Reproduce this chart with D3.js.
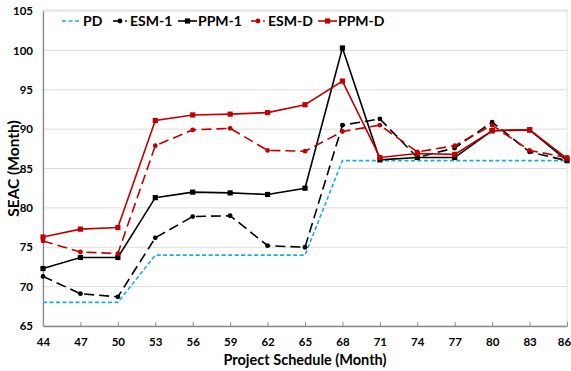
<!DOCTYPE html>
<html>
<head>
<meta charset="utf-8">
<script src="https://cdn.jsdelivr.net/npm/d3@7/dist/d3.min.js"></script>
<style>
  html, body { margin: 0; padding: 0; background: #fff; }
  svg { display: block; }
  text { font-family: Lato, "Open Sans", sans-serif; font-weight: bold; fill: #000; }
</style>
</head>
<body>
<svg id="chart" width="571" height="371"></svg>
<script>
// Schedule months (x categories)
const months = [44, 47, 50, 53, 56, 59, 62, 65, 68, 71, 74, 77, 80, 83, 86];

// SEAC estimates (months) per method
const pd   = [68, 68, 68, 74, 74, 74, 74, 74, 86, 86, 86, 86, 86, 86, 86];
const esm1 = [71.3, 69.1, 68.7, 76.2, 78.9, 79.0, 75.2, 75.0, 90.5, 91.3, 86.4, 87.6, 90.9, 87.1, 86.0];
const ppm1 = [72.3, 73.7, 73.7, 81.3, 82.0, 81.9, 81.7, 82.5, 100.3, 86.1, 86.4, 86.4, 89.8, 89.9, 86.0];
const esmD = [75.8, 74.4, 74.2, 87.9, 89.9, 90.1, 87.3, 87.2, 89.7, 90.5, 87.1, 87.9, 90.5, 87.3, 86.4];
const ppmD = [76.3, 77.3, 77.5, 91.1, 91.8, 91.9, 92.1, 93.1, 96.1, 86.4, 86.9, 86.8, 89.8, 89.9, 86.3];

const yTicks = [65, 70, 75, 80, 85, 90, 95, 100, 105];

const seriesNames = ["PD", "ESM-1", "PPM-1", "ESM-D", "PPM-D"];
const seriesValues = [pd, esm1, ppm1, esmD, ppmD];
const seriesColor = ["#1aaae8", "#000000", "#000000", "#c00000", "#c00000"];
const seriesDash = ["4,2.5", "10,5", null, "10,5", null];
const seriesMarker = [null, "circle", "square", "circle", "square"];

const W = 571, H = 371;
const margin = { top: 11, right: 4, bottom: 45, left: 43 };

const svg = d3.select("#chart");

const x = d3.scalePoint()
  .domain(months)
  .range([margin.left, W - margin.right]);

const y = d3.scaleLinear()
  .domain([65, 105])
  .range([H - margin.bottom, margin.top]);

// Plot frame (light) on top and right
svg.append("rect")
  .attr("x", margin.left).attr("y", margin.top - 1)
  .attr("width", W - margin.right - margin.left)
  .attr("height", H - margin.bottom - margin.top + 1)
  .attr("fill", "none").attr("stroke", "#e4e4e4").attr("stroke-width", 1.2);

// Horizontal gridlines
svg.append("g")
  .selectAll("line")
  .data(yTicks.slice(1))
  .join("line")
  .attr("x1", margin.left).attr("x2", W - margin.right)
  .attr("y1", d => y(d)).attr("y2", d => y(d))
  .attr("stroke", "#dcdcdc").attr("stroke-width", 1);

// Y axis
const yAxis = svg.append("g")
  .attr("transform", `translate(${margin.left},0)`)
  .call(d3.axisLeft(y).tickValues(yTicks).tickSize(0).tickPadding(10));
yAxis.select(".domain").attr("stroke", "#8a8a8a").attr("stroke-width", 1.3);
yAxis.selectAll("text").attr("font-size", 11.5).attr("font-family", "Lato, sans-serif").attr("font-weight", "bold");

// X axis (tick marks point up into the plot)
const xAxis = svg.append("g")
  .attr("transform", `translate(0,${H - margin.bottom})`)
  .call(d3.axisBottom(x).tickSize(-4).tickSizeOuter(0).tickPadding(12));
xAxis.select(".domain").attr("stroke", "#8a8a8a").attr("stroke-width", 1.3);
xAxis.selectAll(".tick line").attr("stroke", "#8a8a8a");
xAxis.selectAll("text").attr("font-size", 11.5).attr("font-family", "Lato, sans-serif").attr("font-weight", "bold");
// keep the last label inside the page edge
xAxis.selectAll(".tick text").filter(d => d === months[months.length - 1]).attr("dx", -3);

// Axis titles
svg.append("text")
  .attr("x", (margin.left + W - margin.right) / 2)
  .attr("y", 365)
  .attr("text-anchor", "middle")
  .attr("font-size", 14.5)
  .text("Project Schedule (Month)");

svg.append("text")
  .attr("transform", `translate(19,${(margin.top + H - margin.bottom) / 2}) rotate(-90)`)
  .attr("text-anchor", "middle")
  .attr("font-size", 15.5)
  .text("SEAC (Month)");

// Lines
const line = d3.line()
  .x((d, i) => x(months[i]))
  .y(d => y(d));

seriesValues.forEach((vals, s) => {
  const g = svg.append("g");
  g.append("path")
    .datum(vals)
    .attr("d", line)
    .attr("fill", "none")
    .attr("stroke", seriesColor[s])
    .attr("stroke-width", 1.6)
    .attr("stroke-dasharray", seriesDash[s]);
  if (seriesMarker[s] === "circle") {
    g.selectAll("circle")
      .data(vals)
      .join("circle")
      .attr("cx", (d, i) => x(months[i]))
      .attr("cy", d => y(d))
      .attr("r", 2.4)
      .attr("fill", seriesColor[s]);
  } else if (seriesMarker[s] === "square") {
    g.selectAll("rect")
      .data(vals)
      .join("rect")
      .attr("x", (d, i) => x(months[i]) - 2.6)
      .attr("y", d => y(d) - 2.6)
      .attr("width", 5.2).attr("height", 5.2)
      .attr("fill", seriesColor[s]);
  }
});

// Legend
const legendX = [62, 110, 178, 248, 318];
const legend = svg.append("g");
seriesNames.forEach((name, s) => {
  const lx = legendX[s], ly = 21;
  const lg = legend.append("g");
  let textX;
  if (s === 0) {
    lg.append("line")
      .attr("x1", lx).attr("x2", lx + 19).attr("y1", ly).attr("y2", ly)
      .attr("stroke", seriesColor[s]).attr("stroke-width", 1.6)
      .attr("stroke-dasharray", "4,2.5");
    textX = lx + 21;
  } else if (seriesDash[s]) {
    // dashed sample: short dash with marker, then a trailing dot
    lg.append("line")
      .attr("x1", lx + 3).attr("x2", lx + 11).attr("y1", ly).attr("y2", ly)
      .attr("stroke", seriesColor[s]).attr("stroke-width", 1.6);
    lg.append("circle").attr("cx", lx + 10).attr("cy", ly).attr("r", 2.4).attr("fill", seriesColor[s]);
    lg.append("circle").attr("cx", lx + 16).attr("cy", ly).attr("r", 0.9).attr("fill", seriesColor[s]);
    textX = lx + 20;
  } else {
    lg.append("line")
      .attr("x1", lx).attr("x2", lx + 19).attr("y1", ly).attr("y2", ly)
      .attr("stroke", seriesColor[s]).attr("stroke-width", 1.6);
    lg.append("rect").attr("x", lx + 9.5 - 2.6).attr("y", ly - 2.6)
      .attr("width", 5.2).attr("height", 5.2).attr("fill", seriesColor[s]);
    textX = lx + 20;
  }
  lg.append("text")
    .attr("x", textX)
    .attr("y", ly + 5)
    .attr("font-size", 14)
    .text(name);
});
</script>
</body>
</html>
